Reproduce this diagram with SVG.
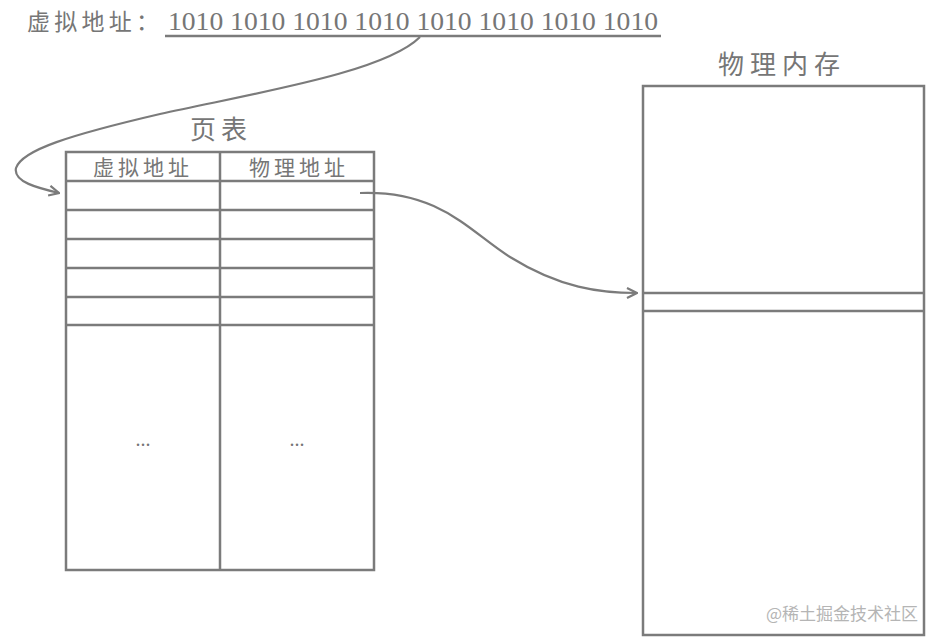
<svg xmlns="http://www.w3.org/2000/svg" width="940" height="644" viewBox="0 0 940 644">
<style>
.ln{fill:none;stroke:#7b7b7b;stroke-width:2.5}
.cn{font-family:"Noto Sans CJK SC","Noto Sans",sans-serif;fill:#767676}
.sf{font-family:"Liberation Serif",serif;fill:#767676}
.con{fill:none;stroke:#7b7b7b;stroke-width:2.2}
</style>
<defs>
<marker id="ah" viewBox="0 0 12 12" refX="11" refY="6" markerWidth="12" markerHeight="12" markerUnits="userSpaceOnUse" orient="auto">
<path d="M1,1 L11,6 L1,11" fill="none" stroke="#7b7b7b" stroke-width="2.2"/>
</marker>
</defs>
<rect width="940" height="644" fill="#fff"/>
<g id="vaddr">
<text class="cn" x="27" y="30" font-size="23" textLength="132" lengthAdjust="spacing">虚拟地址：</text>
<text class="sf" x="168" y="30" font-size="26" textLength="490" lengthAdjust="spacingAndGlyphs">1010 1010 1010 1010 1010 1010 1010 1010</text>
<line class="ln" x1="165" y1="36" x2="661" y2="36"/>
</g>
<g id="pagetable">
<text class="cn" x="221" y="139" font-size="26" text-anchor="middle" letter-spacing="5">页表</text>
<rect class="ln" x="66" y="152" width="308" height="418"/>
<line class="ln" x1="220" y1="152" x2="220" y2="570"/>
<line class="ln" x1="66" y1="181" x2="374" y2="181"/>
<line class="ln" x1="66" y1="210" x2="374" y2="210"/>
<line class="ln" x1="66" y1="239" x2="374" y2="239"/>
<line class="ln" x1="66" y1="268" x2="374" y2="268"/>
<line class="ln" x1="66" y1="297" x2="374" y2="297"/>
<line class="ln" x1="66" y1="325" x2="374" y2="325"/>
<text class="cn" x="143" y="175" font-size="21" text-anchor="middle" letter-spacing="4">虚拟地址</text>
<text class="cn" x="299" y="175" font-size="21" text-anchor="middle" letter-spacing="4">物理地址</text>
<text class="sf" x="143" y="446" font-size="20" text-anchor="middle">...</text>
<text class="sf" x="297" y="446" font-size="20" text-anchor="middle">...</text>
</g>
<g id="memory">
<text class="cn" x="782" y="74" font-size="26" text-anchor="middle" letter-spacing="6">物理内存</text>
<rect class="ln" x="643" y="86" width="281" height="549"/>
<line class="ln" x1="643" y1="293" x2="924" y2="293"/>
<line class="ln" x1="643" y1="311" x2="924" y2="311"/>
</g>
<g id="connectors">
<path class="con" marker-end="url(#ah)" d="M420,37 C385,72 260,92 160,114 C70,135 22,150 16,168 C13,182 38,188 59,193"/>
<path class="con" marker-end="url(#ah)" d="M360,193 C440,190 470,232 510,257 C560,288 600,293 637,293"/>
</g>
<text x="918" y="620" font-family="Noto Sans CJK SC,sans-serif" font-size="17" fill="#b5b5b5" text-anchor="end">@稀土掘金技术社区</text>
</svg>
